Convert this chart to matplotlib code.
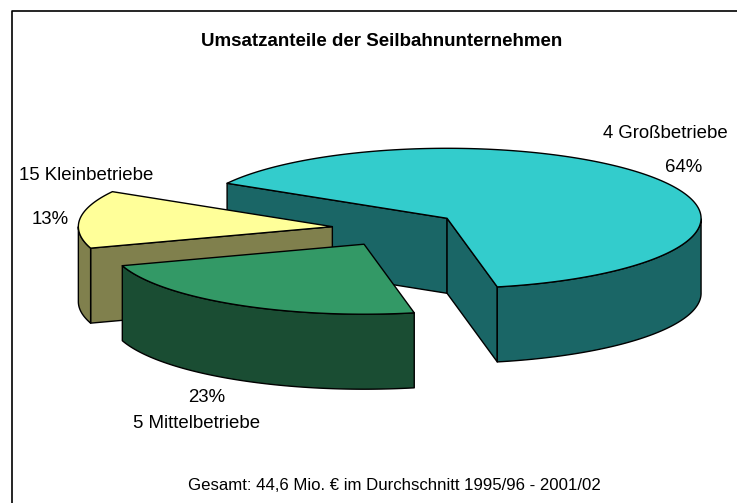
import numpy as np
import matplotlib
matplotlib.use("Agg")
import matplotlib.pyplot as plt
from matplotlib.patches import Polygon

plt.rcParams['font.family'] = ['Liberation Sans', 'DejaVu Sans']

# data
categories = ['4 Großbetriebe', '5 Mittelbetriebe', '15 Kleinbetriebe']
shares = [63.5, 23.2, 13.3]
percent_labels = ['64%', '23%', '13%']
title = 'Umsatzanteile der Seilbahnunternehmen'
footnote = 'Gesamt: 44,6 Mio. € im Durchschnitt 1995/96 - 2001/02'

# style
top_colors = ['#33CCCC', '#339966', '#FFFF99']
side_colors = ['#1A6666', '#1A4D33', '#80804D']
explode_x = [0.25, 0.245, 0.25]
explode_y = [0.25, 0.26, 0.25]
start_deg = 150.0
cx, cy, rx, ry, depth = 395.5, 228.5, 254.0, 70.0, 75.0
zorders = [1, 3, 2]

fig = plt.figure(figsize=(7.37, 5.03), dpi=100)
ax = fig.add_axes([0, 0, 1, 1])
ax.set_xlim(0, 737)
ax.set_ylim(503, 0)
ax.axis('off')

ax.plot([12.5, 12.5, 737], [503, 10.5, 10.5], color='black', lw=1.2, zorder=0)

def pt(ox, oy, t):
    return ox + rx * np.cos(t), oy - ry * np.sin(t)

angle = np.deg2rad(start_deg)
total = sum(shares)
for i, v in enumerate(shares):
    sweep = 2 * np.pi * v / total
    a0, a1 = angle, angle - sweep          # clockwise
    angle = a1
    mid = (a0 + a1) / 2
    mx, my = pt(cx, cy, mid)
    ox = cx + explode_x[i] * (mx - cx)
    oy = cy + explode_y[i] * (my - cy)
    z = zorders[i]
    ts = np.linspace(a0, a1, 200)
    ex, ey = pt(ox, oy, ts)
    kw = dict(edgecolor='black', lw=1.0, joinstyle='round')

    # flat cut faces that look towards the viewer
    faces = {0: [a0, a1], 1: [], 2: [a0]}[i]
    for ang in faces:
        px, py = pt(ox, oy, ang)
        ax.add_patch(Polygon([(ox, oy), (px, py), (px, py + depth), (ox, oy + depth)],
                             facecolor=side_colors[i], zorder=z, **kw))
    # outer wall: the part of the rim on the lower half
    sel = np.sin(ts) <= 0
    wx, wy = ex[sel], ey[sel]
    wall = list(zip(wx, wy)) + list(zip(wx[::-1], wy[::-1] + depth))
    ax.add_patch(Polygon(wall, facecolor=side_colors[i], zorder=z, **kw))
    # top
    top = [(ox, oy)] + list(zip(ex, ey))
    ax.add_patch(Polygon(top, facecolor=top_colors[i], zorder=z + 0.5, **kw))

fs = 13.4
ax.text(382, 41, title, ha='center', va='center', fontsize=13.5, fontweight='bold', color='black')
ax.text(665.5, 134, categories[0], ha='center', va='center', fontsize=fs)
ax.text(684, 167, percent_labels[0], ha='center', va='center', fontsize=fs)
ax.text(86, 176, categories[2], ha='center', va='center', fontsize=fs)
ax.text(50, 220, percent_labels[2], ha='center', va='center', fontsize=fs)
ax.text(207, 398, percent_labels[1], ha='center', va='center', fontsize=fs)
ax.text(197, 423, categories[1], ha='center', va='center', fontsize=fs)
ax.text(394, 486, footnote, ha='center', va='center', fontsize=12.1)

fig.savefig('out.png', dpi=100)
